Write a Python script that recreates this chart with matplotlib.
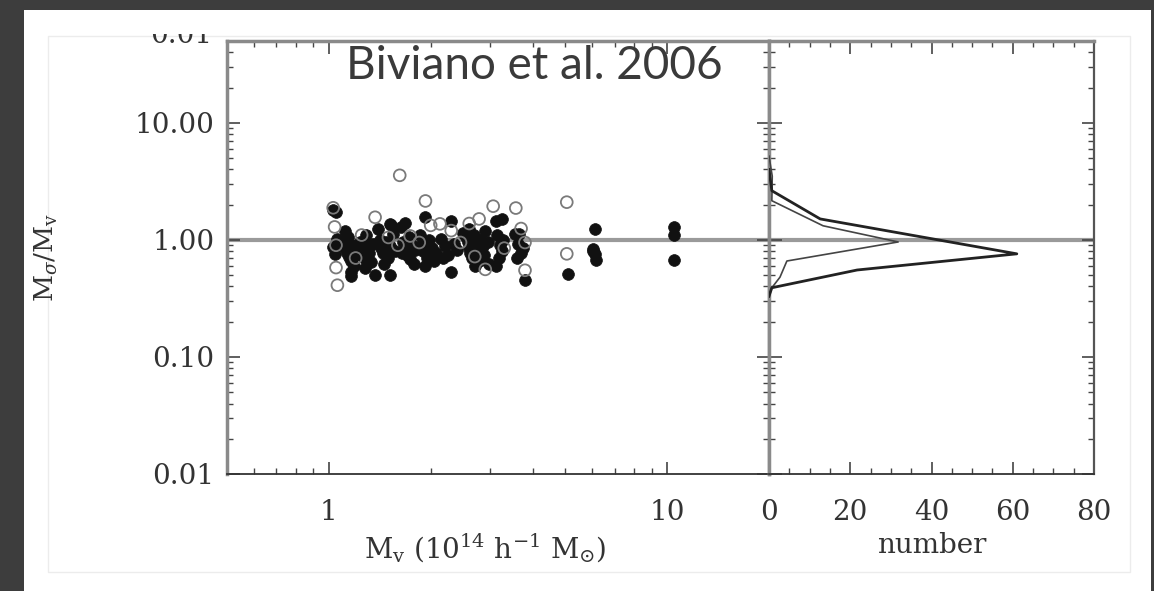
import numpy as np
import matplotlib.pyplot as plt
from matplotlib.patches import Rectangle
from matplotlib.transforms import Bbox
from matplotlib.ticker import FixedLocator, FormatStrFormatter, LogLocator, MultipleLocator, NullFormatter

plt.rcParams['font.family'] = ['DejaVu Serif']
plt.rcParams['mathtext.fontset'] = 'dejavuserif'

# clusters with filled symbols: virial mass (1e14 h^-1 Msun) and M_sigma / M_v
mv_filled = [1.03, 1.05, 1.04, 1.03, 1.06, 1.12, 1.10, 1.12, 1.13, 1.15,
             1.16, 1.17, 1.18, 1.19, 1.16, 1.20, 1.14, 1.24, 1.26, 1.27,
             1.29, 1.30, 1.31, 1.33, 1.35, 1.28, 1.37, 1.52, 1.16, 1.40,
             1.42, 1.43, 1.45, 1.48, 1.50, 1.52, 1.55, 1.57, 1.46, 1.53,
             1.63, 1.66, 1.68, 1.70, 1.72, 1.74, 1.76, 1.78, 1.65, 1.80,
             1.93, 1.86, 1.88, 1.90, 1.95, 1.98, 2.02, 2.05, 2.08, 1.92,
             2.15, 2.20, 2.25, 2.29, 2.29, 2.35, 2.40, 2.18, 2.50, 2.55,
             2.58, 2.60, 2.62, 2.65, 2.68, 2.72, 2.75, 2.78, 2.80, 2.85,
             2.88, 2.90, 2.95, 2.98, 2.70, 2.60, 3.24, 3.13, 3.15, 3.20,
             3.25, 3.18, 3.12, 3.28, 3.55, 3.65, 3.62, 3.70, 3.60, 3.75,
             3.80, 5.09, 6.14, 6.05, 6.10, 6.18, 6.02, 10.5, 10.5, 10.5,
             1.68, 1.52]
ratio_filled = [1.80, 1.72, 0.76, 0.87, 1.02, 1.20, 0.95, 0.85, 0.78, 0.72,
                0.66, 0.90, 0.80, 0.60, 0.49, 0.75, 1.05, 0.95, 0.82, 0.70,
                1.10, 0.88, 0.77, 0.65, 0.92, 0.58, 0.50, 0.50, 0.53, 1.25,
                1.00, 0.85, 0.78, 0.95, 0.70, 0.88, 1.12, 0.80, 0.62, 1.35,
                1.30, 0.95, 0.85, 0.75, 1.05, 0.68, 0.90, 0.62, 0.78, 0.82,
                1.57, 1.10, 0.93, 0.80, 0.70, 1.00, 0.86, 0.66, 0.78, 0.60,
                1.02, 0.88, 0.75, 1.46, 0.53, 0.92, 0.82, 0.70, 1.15, 1.05,
                0.95, 0.85, 0.78, 0.70, 1.10, 0.92, 0.82, 0.66, 1.00, 0.88,
                0.75, 1.20, 0.95, 0.62, 0.60, 1.25, 1.51, 1.46, 1.10, 0.90,
                0.80, 0.70, 0.60, 1.00, 1.13, 1.12, 0.92, 0.78, 0.70, 0.85,
                0.45, 0.51, 1.23, 0.84, 0.76, 0.67, 0.80, 1.29, 1.09, 0.67,
                1.40, 1.37]

# clusters with open symbols
mv_open = [1.62, 1.93, 3.06, 3.57, 5.05, 5.05, 1.06, 1.05, 1.04, 1.03,
           1.05, 2.13, 2.78, 2.90, 3.80, 3.80, 1.37, 1.74, 1.25, 1.50,
           2.45, 2.30, 2.70, 1.85, 2.60, 3.30, 1.20, 3.70, 2.00, 1.60]
ratio_open = [3.56, 2.15, 1.94, 1.87, 2.10, 0.76, 0.41, 0.58, 1.29, 1.88,
              0.90, 1.37, 1.51, 0.56, 0.55, 0.95, 1.56, 1.08, 1.10, 1.05,
              0.95, 1.20, 0.72, 0.95, 1.38, 0.85, 0.70, 1.25, 1.33, 0.90]

# distributions of M_sigma / M_v (side panel)
hist_ratio_filled = [4.0, 2.63, 1.51, 0.76, 0.553, 0.39, 0.33]
hist_count_filled = [0, 0.7, 12.6, 61, 21.7, 0.7, 0]
hist_ratio_open = [5.2, 3.5, 2.16, 1.32, 0.96, 0.66, 0.48, 0.39, 0.33]
hist_count_open = [0, 0.8, 0.7, 13.3, 31.8, 4.4, 2.7, 0.7, 0]

W, H = 1154, 591
fig = plt.figure(figsize=(W / 100, H / 100), dpi=100)
fig.patch.set_facecolor('#3d3d3d')

# white card and faint inner frame
fig.patches.append(Rectangle((24 / W, 0), (1151 - 24) / W, 1 - 10 / H,
                             transform=fig.transFigure, facecolor='white',
                             edgecolor='none', zorder=-10))
fig.patches.append(Rectangle((48 / W, 1 - 572 / H), (1130 - 48) / W, (572 - 36) / H,
                             transform=fig.transFigure, facecolor='none',
                             edgecolor='#ececec', lw=1, zorder=-9))

ax1 = fig.add_axes([227 / W, 1 - 474 / H, (769 - 227) / W, (474 - 41) / H])
ax2 = fig.add_axes([769 / W, 1 - 474 / H, (1094 - 769) / W, (474 - 41) / H])

light = '#8a8a8a'
dark = '#333333'

for ax in (ax1, ax2):
    ax.set_yscale('log')
    ax.set_ylim(0.01, 50)
    ax.axhline(1.0, color='#9a9a9a', lw=3, zorder=1)
    ax.tick_params(which='both', direction='in', top=True, right=True,
                   colors='#444444', labelcolor='#333333', labelsize=20)
    ax.tick_params(which='major', length=9, width=1.2)
    ax.tick_params(which='minor', length=4.5, width=1.0)
    ax.tick_params(axis='y', pad=9)
    ax.tick_params(axis='x', pad=18)
    ax.yaxis.set_minor_locator(LogLocator(base=10, subs=np.arange(2, 10)))
    ax.yaxis.set_minor_formatter(NullFormatter())
    for side in ('left', 'top'):
        ax.spines[side].set_color(light)
        ax.spines[side].set_linewidth(2.5)
    ax.spines['bottom'].set_color(dark)
    ax.spines['bottom'].set_linewidth(1.3)

ax1.spines['right'].set_color(light)
ax1.spines['right'].set_linewidth(2.5)
ax2.spines['right'].set_color('#555555')
ax2.spines['right'].set_linewidth(1.6)

# scatter panel
ax1.set_xscale('log')
ax1.set_xlim(0.5, 20)
ax1.xaxis.set_major_locator(FixedLocator([1, 10]))
ax1.xaxis.set_major_formatter(FormatStrFormatter('%g'))
ax1.xaxis.set_minor_locator(LogLocator(base=10, subs=np.arange(2, 10)))
ax1.xaxis.set_minor_formatter(NullFormatter())
ax1.yaxis.set_major_locator(FixedLocator([0.01, 0.1, 1, 10]))
ax1.yaxis.set_major_formatter(FormatStrFormatter('%.2f'))

ax1.scatter(mv_filled, ratio_filled, s=72, c='#111111', edgecolors='#111111',
            linewidths=0.5, zorder=3)
ax1.scatter(mv_open, ratio_open, s=72, facecolors='none', edgecolors='#7a7a7a',
            linewidths=1.3, zorder=4)

ax1.set_xlabel(r'M$_\mathrm{v}$ (10$^{14}$ h$^{-1}$ M$_\mathrm{⊙}$)', fontsize=20, color='#333333')
ax1.xaxis.set_label_coords((485 - 227) / 542, (474 - 532) / 433)
ax1.set_ylabel(r'M$_\sigma$/M$_\mathrm{v}$', fontsize=19, color='#333333')
ax1.yaxis.set_label_coords((60 - 227) / 542, 0.5)

ax1.text((346 - 227) / 542, (474 - 79) / 433, 'Biviano et al. 2006',
         transform=ax1.transAxes, family=['Lato', 'DejaVu Sans'], fontsize=33,
         fontweight='normal', color='#3a3a3a', ha='left', va='baseline', zorder=6)

# histogram panel
ax2.set_xlim(0, 80)
ax2.xaxis.set_major_locator(MultipleLocator(20))
ax2.xaxis.set_minor_locator(MultipleLocator(5))
ax2.yaxis.set_major_formatter(NullFormatter())
ax2.plot(hist_count_open, hist_ratio_open, color='#444444', lw=1.2, zorder=3)
ax2.plot(hist_count_filled, hist_ratio_filled, color='#222222', lw=2.0, zorder=3)
ax2.set_xlabel('number', fontsize=20, color='#333333')
ax2.xaxis.set_label_coords(0.5, (474 - 532) / 433)

# tick label of the panel above, cut at the edge of the page
t = fig.text(212 / W, 1 - 43 / H, '0.01', ha='right', va='baseline',
             fontsize=20, color='#333333')
t.set_clip_box(Bbox.from_extents(0, 0, W, H - 34))
t.set_clip_on(True)

fig.savefig('out.png', dpi=100, facecolor=fig.get_facecolor())
